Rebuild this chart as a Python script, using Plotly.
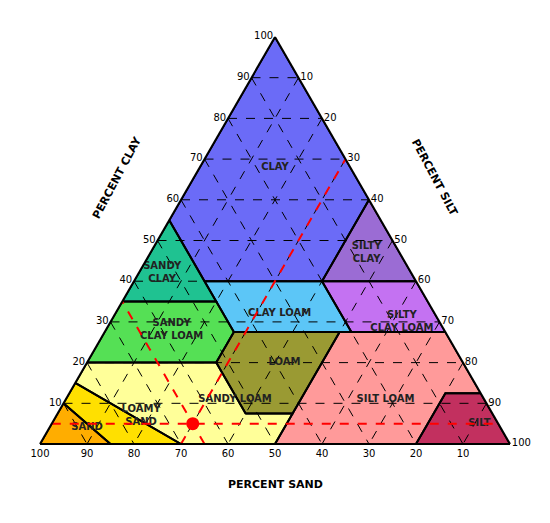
import plotly.graph_objects as go

# soil texture classes: (clay, sand, silt) vertices
names = ["CLAY", "SANDY<br>CLAY", "SILTY<br>CLAY", "SANDY<br>CLAY LOAM", "CLAY LOAM",
         "SILTY<br>CLAY LOAM", "LOAM", "SILT LOAM", "SANDY LOAM", "LOAMY<br>SAND", "SAND", "SILT"]
colors = ["#6b6bf7", "#1fc291", "#9b6cd4", "#55e055", "#5cc6f7", "#c472f2",
          "#9a9a33", "#ff9a9a", "#ffff99", "#ffe000", "#ffad00", "#c2305f"]
clay = [[40, 55, 100, 60, 40], [35, 55, 35], [40, 60, 40], [20, 35, 35, 27.5, 20],
        [27.5, 40, 40, 27.5, 27.5], [27.5, 40, 40, 27.5], [7.5, 20, 27.5, 27.5, 7.5],
        [0, 27.5, 27.5, 12.5, 12.5, 0], [0, 15, 20, 20, 7.5, 7.5, 0], [0, 10, 15, 0],
        [0, 10, 0], [0, 12.5, 12.5, 0]]
sand = [[45, 45, 0, 0, 20], [65, 45, 45], [20, 0, 0], [80, 65, 45, 45, 52.5],
        [45, 45, 20, 20, 22.5], [20, 20, 0, 0], [52.5, 52.5, 45, 22.5, 42.5],
        [50, 22.5, 0, 0, 7.5, 20], [70, 85, 80, 52.5, 52.5, 42.5, 50], [85, 90, 85, 70],
        [100, 90, 85], [20, 7.5, 0, 0]]
label_pos = [(68, 16), (42, 53), (47, 7), (28, 58), (32, 33), (30, 8), (20, 38),
             (11, 21), (11, 53), (7, 75), (4, 88), (5, 4)]
ticks = [10, 20, 30, 40, 50, 60, 70, 80, 90, 100]

# example point and its guide lines
pt_clay, pt_sand, pt_silt = 5, 65, 30

fig = go.Figure()
for n, c, a, b in zip(names, colors, clay, sand):
    cc = [100 - x - y for x, y in zip(a, b)]
    fig.add_trace(go.Scatterternary(a=a + [a[0]], b=b + [b[0]], c=cc + [cc[0]],
                                    mode="lines", fill="toself", fillcolor=c,
                                    line=dict(width=0), hoverinfo="skip"))

# dashed grid drawn over the fills
grid = dict(color="black", width=1, dash="dash")
for v in ticks[:-1]:
    fig.add_trace(go.Scatterternary(a=[v, v], b=[100 - v, 0], c=[0, 100 - v], mode="lines", line=grid))
    fig.add_trace(go.Scatterternary(a=[100 - v, 0], b=[v, v], c=[0, 100 - v], mode="lines", line=grid))
    fig.add_trace(go.Scatterternary(a=[100 - v, 0], b=[0, 100 - v], c=[v, v], mode="lines", line=grid))

for n, a, b, (la, lb) in zip(names, clay, sand, label_pos):
    cc = [100 - x - y for x, y in zip(a, b)]
    fig.add_trace(go.Scatterternary(a=a + [a[0]], b=b + [b[0]], c=cc + [cc[0]], mode="lines",
                                    line=dict(color="black", width=2), hoverinfo="skip"))
    fig.add_trace(go.Scatterternary(a=[la], b=[lb], c=[100 - la - lb], mode="text", text=["<b>" + n + "</b>"],
                                    textfont=dict(family="DejaVu Sans", size=10, color="#222")))

red = dict(color="red", width=2, dash="dash")
fig.add_trace(go.Scatterternary(a=[pt_clay, pt_clay], b=[95, 0], c=[0, 95], mode="lines", line=red))
fig.add_trace(go.Scatterternary(a=[0, 100 - pt_silt], b=[100 - pt_silt, 0], c=[pt_silt, pt_silt], mode="lines", line=red))
fig.add_trace(go.Scatterternary(a=[0, 100 - pt_sand], b=[pt_sand, pt_sand], c=[100 - pt_sand, 0], mode="lines", line=red))
fig.add_trace(go.Scatterternary(a=[pt_clay], b=[pt_sand], c=[pt_silt], mode="markers",
                                marker=dict(color="red", size=13)))

ax = dict(tickvals=ticks, showgrid=False, linecolor="black", linewidth=2, ticks="",
          tickfont=dict(family="DejaVu Sans", size=10), layer="above traces", min=0)
fig.update_layout(
    width=550, height=523, showlegend=False,
    paper_bgcolor="white", margin=dict(l=32, r=48, t=22, b=80),
    ternary=dict(bgcolor="white", sum=100,
                 aaxis=dict(ax, ticksuffix="→", title=""),
                 baxis=dict(ax, tickprefix="←", title=""),
                 caxis=dict(ax, tickprefix="←", title="")),
    font=dict(family="DejaVu Sans", color="black"),
)
af = dict(family="DejaVu Sans", size=11, color="black")
fig.add_annotation(x=0.1, y=0.65, xref="paper", yref="paper", text="<b>PERCENT CLAY</b>",
                   textangle=-62, showarrow=False, font=af)
fig.add_annotation(x=0.9, y=0.65, xref="paper", yref="paper", text="<b>PERCENT SILT</b>",
                   textangle=62, showarrow=False, font=af)
fig.add_annotation(x=0.5, y=-0.1, xref="paper", yref="paper", text="<b>PERCENT SAND</b>",
                   showarrow=False, font=af)
fig.write_html("out.html")
